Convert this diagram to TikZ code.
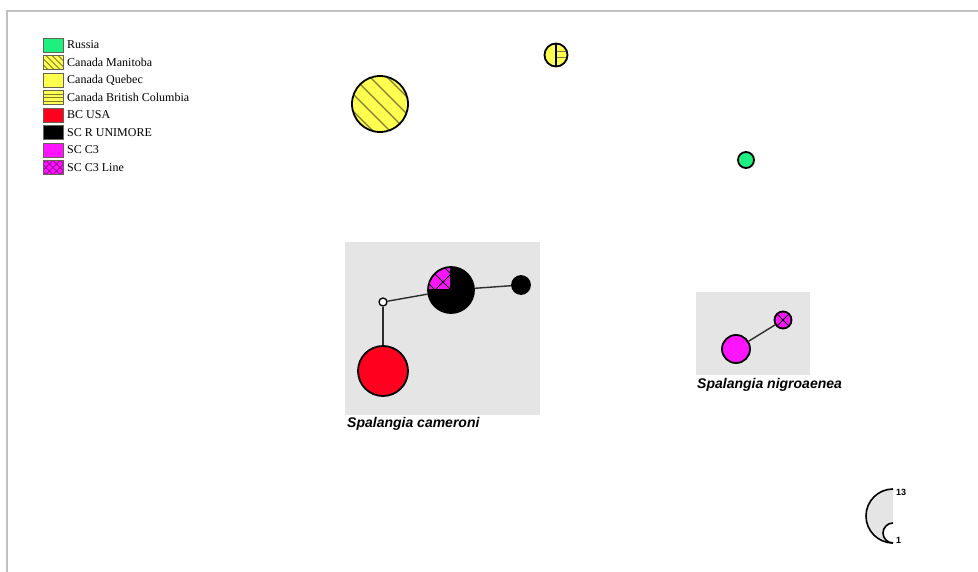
\documentclass[tikz,border=0pt]{standalone}
\usepackage{fontspec}
\setmainfont{Liberation Serif}
\newfontfamily\labelfont{Liberation Sans}
\definecolor{russia}{RGB}{30,240,128}
\definecolor{canyel}{RGB}{255,255,80}
\definecolor{bcred}{RGB}{255,0,30}
\definecolor{scpink}{RGB}{255,20,255}
\definecolor{boxgray}{RGB}{229,229,229}
\definecolor{framegray}{RGB}{192,192,192}
\definecolor{hatchol}{RGB}{125,125,55}
\definecolor{hatchpu}{RGB}{120,0,120}
\definecolor{legedge}{RGB}{100,100,80}
\definecolor{edgec}{RGB}{45,45,45}
\begin{document}
\begin{tikzpicture}[x=1pt,y=-1pt,
  frame/.style={draw=framegray,line width=1.6pt},
  legbox/.style={draw=legedge,line width=0.8pt,minimum width=20pt,minimum height=14pt,inner sep=0pt},
  legtext/.style={anchor=west,inner sep=0pt,font=\fontsize{12}{14}\selectfont},
  hap/.style={circle,draw=black,line width=1.8pt,inner sep=0pt},
  species/.style={fill=boxgray,inner sep=0pt},
  spname/.style={anchor=base west,inner sep=0pt,font=\labelfont\bfseries\itshape\fontsize{14}{16}\selectfont},
  edge/.style={draw=edgec,line width=1.4pt},
  scalelab/.style={anchor=west,inner sep=0pt,font=\labelfont\bfseries\fontsize{9}{10}\selectfont},
  % diagonal "\" hatching, spacing given as first argument
  backhatch/.style 2 args={path picture={
    \foreach \k in {-8,...,8}
      \draw[#2] ([shift={({\k*#1*1pt-40pt},40pt)}]path picture bounding box.center) -- ++(80pt,-80pt);}},
  crosshatch/.style 2 args={path picture={
    \foreach \k in {-8,...,8}{
      \draw[#2] ([shift={({\k*#1*1pt-40pt},40pt)}]path picture bounding box.center) -- ++(80pt,-80pt);
      \draw[#2] ([shift={({\k*#1*1pt-40pt},-40pt)}]path picture bounding box.center) -- ++(80pt,80pt);}}},
  rowhatch/.style 2 args={path picture={
    \foreach \c in {-#1,0,#1}
      \draw[#2] ([shift={(-15pt,\c pt)}]path picture bounding box.center) -- ++(30pt,0pt);}}
]
\useasboundingbox (0,0) rectangle (978,572);
\draw[frame] (978,11) -- (7,11) -- (7,572);

% legend
\node[legbox,fill=russia] (lg1) at (53,45) {};
\node[legtext] (lt1) at (67,45) {Russia};
\node[legbox,fill=canyel,backhatch={6}{hatchol,line width=0.8pt}] (lg2) at (53,62.5) {};
\node[legtext] (lt2) at (67,62.5) {Canada Manitoba};
\node[legbox,fill=canyel] (lg3) at (53,80) {};
\node[legtext] (lt3) at (67,80) {Canada Quebec};
\node[legbox,fill=canyel,rowhatch={3.5}{hatchol,line width=0.7pt}] (lg4) at (53,97.5) {};
\node[legtext] (lt4) at (67,97.5) {Canada British Columbia};
\node[legbox,fill=bcred] (lg5) at (53,115) {};
\node[legtext] (lt5) at (67,115) {BC USA};
\node[legbox,fill=black] (lg6) at (53,132.5) {};
\node[legtext] (lt6) at (67,132.5) {SC R UNIMORE};
\node[legbox,fill=scpink] (lg7) at (53,150) {};
\node[legtext] (lt7) at (67,150) {SC C3};
\node[legbox,fill=scpink,crosshatch={7}{hatchpu,line width=0.6pt}] (lg8) at (53,167.5) {};
\node[legtext] (lt8) at (67,167.5) {SC C3 Line};

% species boxes
\node[species,minimum width=195pt,minimum height=173pt] (spc) at (442.5,328.5) {};
\node[spname] (spclab) at (347,427) {Spalangia cameroni};
\node[species,minimum width=114pt,minimum height=83pt] (spn) at (753,333.5) {};
\node[spname] (spnlab) at (697,388) {Spalangia nigroaenea};

% haplotypes outside the species boxes
\node[hap,fill=canyel,minimum size=56pt,backhatch={17}{hatchol,line width=1.1pt}] (manitoba) at (380,104) {};
\node[hap,fill=canyel,minimum size=23pt,path picture={
    \draw[hatchol,line width=0.9pt] ([shift={(0pt,4pt)}]path picture bounding box.center) -- ++(14pt,0pt);
    \draw[hatchol,line width=0.9pt] ([shift={(0pt,-2pt)}]path picture bounding box.center) -- ++(14pt,0pt);
    \draw[black,line width=1.2pt] ([shift={(0pt,14pt)}]path picture bounding box.center) -- ++(0pt,-28pt);}] (quebecbc) at (556,55) {};
\node[hap,fill=russia,minimum size=16pt] (russia) at (746,160) {};

% Spalangia cameroni network
\node[hap,fill=white,minimum size=8pt,line width=1.3pt] (median) at (383,302) {};
\node[hap,fill=black,minimum size=46pt,path picture={
    \begin{scope}
      \clip (path picture bounding box.center) rectangle ++(-26pt,26pt);
      \fill[scpink] (path picture bounding box.center) circle[radius=26pt];
      \foreach \k in {-3,...,3}{
        \draw[black,line width=0.9pt] ([shift={({\k*16pt-40pt},40pt)}]path picture bounding box.center) -- ++(80pt,-80pt);
        \draw[black,line width=0.9pt] ([shift={({\k*16pt-40pt},-40pt)}]path picture bounding box.center) -- ++(80pt,80pt);}
    \end{scope}
    \draw[black,line width=1.2pt] ([shift={(-26pt,0pt)}]path picture bounding box.center) -- (path picture bounding box.center) -- ++(0pt,26pt);}] (unimore) at (451,290) {};
\node[hap,fill=black,minimum size=18pt] (smallblack) at (521,285) {};
\node[hap,fill=bcred,minimum size=50pt] (bcusa) at (383,371) {};
\draw[edge] (median) -- (unimore);
\draw[edge] (unimore) -- (smallblack);
\draw[edge] (median) -- (bcusa);

% Spalangia nigroaenea network
\node[hap,fill=scpink,minimum size=28pt] (c3) at (736,349) {};
\node[hap,fill=scpink,minimum size=17pt,path picture={
    \draw[black,line width=0.9pt] ([shift={(-10pt,10pt)}]path picture bounding box.center) -- ++(20pt,-20pt);
    \draw[black,line width=0.9pt] ([shift={(-10pt,-10pt)}]path picture bounding box.center) -- ++(20pt,20pt);}] (c3line) at (783,320) {};
\draw[edge] (c3) -- (c3line);

% circle-size scale
\draw[line width=1.6pt,fill=boxgray] (893,489) arc[start angle=90,end angle=270,radius=27pt];
\draw[line width=1.6pt,fill=white] (893,523) arc[start angle=90,end angle=270,radius=10pt];
\node[scalelab] (s13) at (896,492) {13};
\node[scalelab] (s1) at (896,540) {1};
\end{tikzpicture}
\end{document}
